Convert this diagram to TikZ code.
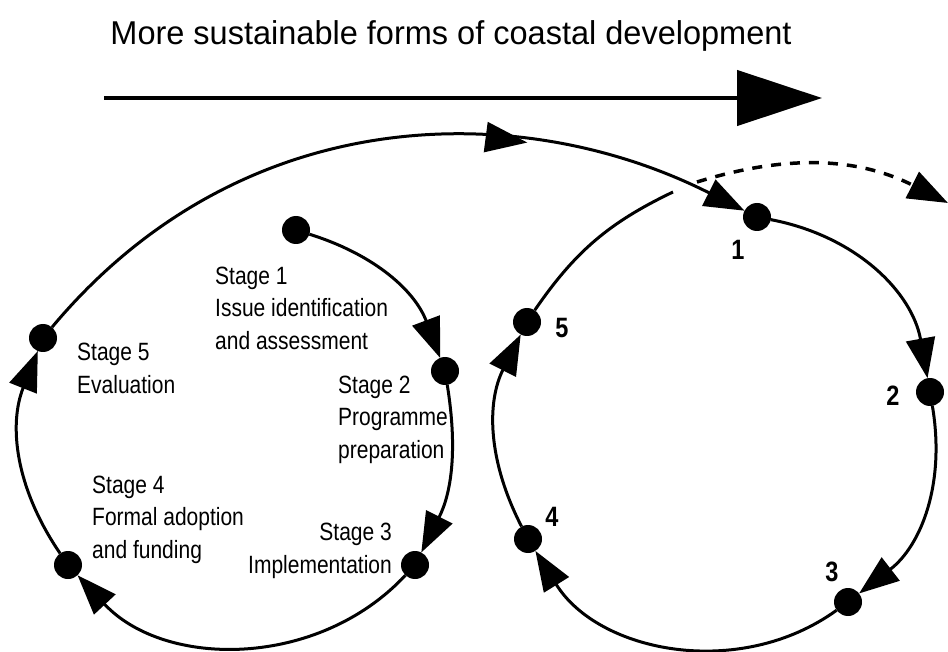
\documentclass[tikz,border=0pt]{standalone}
\usepackage{fontspec}
\setmainfont{Liberation Sans}
\newfontfamily\titlefont[FakeStretch=0.985]{Liberation Sans}
\newfontfamily\narrowfont[FakeStretch=0.84]{Liberation Sans}
\usetikzlibrary{arrows.meta,decorations.markings}
\begin{document}
\begin{tikzpicture}[x=1pt,y=1pt,
  dot/.style={circle,fill=black,inner sep=0pt,outer sep=0pt,minimum size=28pt},
  plain/.style={line width=3pt},
  flow/.style={line width=3pt,-{Triangle[length=40pt,width=29pt]}},
  lbl/.style={font=\narrowfont\fontsize{25}{32.5}\selectfont,inner sep=0pt,align=left},
  num/.style={font=\narrowfont\bfseries\fontsize{28}{30}\selectfont,inner sep=0pt}]
\useasboundingbox (0,0) rectangle (948,-652);

% title and top arrow
\node[font=\titlefont\fontsize{33}{40}\selectfont,anchor=base,inner sep=0pt] (title) at (451,-45) {More sustainable forms of coastal development};
\coordinate (ta) at (104,-98);
\coordinate (tb) at (822,-98);
\draw[line width=4.5pt,-{Triangle[length=85pt,width=55pt]}] (ta) -- (tb);

% left loop
\node[dot] (s1) at (296,-230) {};
\node[dot] (s2) at (445,-371) {};
\node[dot] (s3) at (415,-565) {};
\node[dot] (s4) at (68,-565) {};
\node[dot] (s5) at (43,-338) {};

% right loop
\node[dot] (r1) at (757,-217) {};
\node[dot] (r2) at (930,-392) {};
\node[dot] (r3) at (848,-602) {};
\node[dot] (r4) at (528,-539) {};
\node[dot] (r5) at (527,-322) {};
\coordinate (j) at (673,-192);
\coordinate (ds) at (697,-182);
\coordinate (de) at (948,-203);

\draw[flow] (s1) to[bend left=26] (s2);
\draw[flow] (s2) to[bend left=18] (s3);
\draw[flow] (s3) to[bend left=47] (s4);
\draw[flow] (s4) to[bend left=28] (s5);
\draw[flow,postaction={decorate},
  decoration={markings,mark=at position 0.7 with {\arrow{Triangle[length=42pt,width=30pt]}}}]
  (s5) .. controls (242,-100) and (521,-98) .. (r1);

\draw[flow] (r1) to[bend left=34.5] (r2);
\draw[flow] (r2) to[bend left=31] (r3);
\draw[flow] (r3) to[bend left=47] (r4);
\draw[flow] (r4) to[bend left=27] (r5);
\draw[plain] (r5) to[bend left=15] (j);
\draw[line width=3.5pt,dash pattern=on 10pt off 9pt,-{Triangle[length=40pt,width=29pt]}] (ds) to[bend left=22] (de);

% labels (anchor = baseline of the last line)
\node[lbl,anchor=base west] (t1) at (215,-349) {Stage 1\\Issue identification\\and assessment};
\node[lbl,anchor=base west] (t5) at (77,-393) {Stage 5\\Evaluation};
\node[lbl,anchor=base west] (t2) at (338,-458) {Stage 2\\Programme\\preparation};
\node[lbl,anchor=base west] (t4) at (92,-558) {Stage 4\\Formal adoption\\and funding};
\node[lbl,anchor=base east,align=right] (t3) at (392,-573) {Stage 3\\Implementation};

\node[num] (n1) at (738,-250) {1};
\node[num] (n2) at (893,-396) {2};
\node[num] (n3) at (832,-572) {3};
\node[num] (n4) at (552,-517) {4};
\node[num] (n5) at (562,-328) {5};
\end{tikzpicture}
\end{document}
